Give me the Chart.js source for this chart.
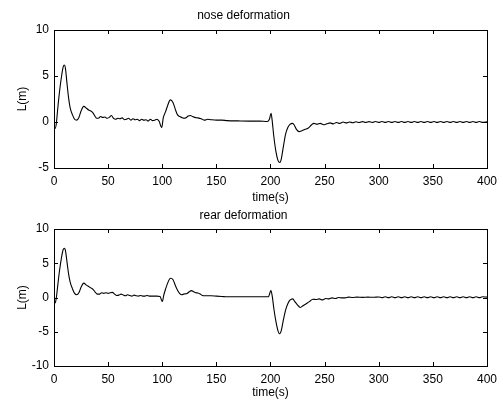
<!DOCTYPE html>
<html>
<head>
<meta charset="utf-8">
<script src="https://cdn.jsdelivr.net/npm/chart.js@4.4.1/dist/chart.umd.min.js"></script>
<style>
  body { margin: 0; background: #fff; }
  canvas { position: absolute; left: 0; }
  #noseChart { top: 0; }
  #rearChart { top: 200px; }
</style>
</head>
<body>
<canvas id="noseChart" width="503" height="206"></canvas>
<canvas id="rearChart" width="503" height="206"></canvas>
<script>
// time axis shared by both plots
const timeRange = [0, 400];
const timeStep = 50;

// nose deformation, 10 points per line
const noseTime = [
  0, 1, 2, 3.5, 5, 7, 8.5, 9.5, 10.5, 12,
  13.5, 15, 17, 19, 21, 23, 25, 27.5, 30, 32,
  34, 36, 38, 39.5, 41, 43, 45, 47, 49, 51,
  53, 55, 57, 59, 61, 63, 65, 67, 69, 71,
  73, 75, 77, 79, 81, 83, 85, 87, 89, 91,
  93, 95, 97, 99.5, 101, 103, 105, 107.5, 110, 112,
  114, 116, 118, 120, 122, 124, 126, 128, 130, 133,
  136, 139, 142, 145, 150, 155, 160, 170, 180, 190,
  197, 199, 200.5, 201.5, 203, 205, 207, 208.7, 210, 212,
  214, 216, 218, 220.5, 222, 224, 226.5, 229, 232, 235,
  238, 240, 243, 246, 249, 252, 255, 258, 261, 264,
  267, 270, 273, 276, 279, 282, 285, 288, 291, 294,
  297, 300, 303, 306, 309, 312, 315, 318, 321, 324,
  327, 330, 333, 336, 339, 342, 345, 348, 351, 354,
  357, 360, 363, 366, 369, 372, 375, 378, 381, 384,
  387, 390, 393, 396, 400];
const noseL = [
  -0.5, -0.7, -0.3, 1.5, 3.2, 5.0, 6.0, 6.2, 5.9, 4.2,
  2.6, 1.5, 0.8, 0.3, 0.2, 0.5, 1.2, 1.7, 1.5, 1.3,
  1.2, 1.0, 0.6, 0.4, 0.4, 0.6, 0.5, 0.55, 0.4, 0.5,
  0.7, 0.4, 0.3, 0.4, 0.35, 0.45, 0.25, 0.3, 0.4, 0.2,
  0.35, 0.25, 0.3, 0.15, 0.3, 0.2, 0.25, 0.1, 0.3, 0.15,
  0.2, 0.3, 0.1, -0.6, 0.5, 1.1, 1.8, 2.4, 2.1, 1.4,
  0.8, 0.6, 0.5, 0.4, 0.45, 0.65, 0.7, 0.6, 0.5, 0.45,
  0.35, 0.2, 0.3, 0.25, 0.2, 0.2, 0.15, 0.12, 0.1, 0.1,
  0.05, 0.3, 0.95, 0.2, -1.5, -3.2, -4.2, -4.4, -4.0, -2.6,
  -1.3, -0.6, -0.25, -0.15, -0.35, -0.8, -1.05, -0.95, -0.8, -0.65,
  -0.3, -0.15, -0.25, -0.15, -0.3, -0.2, -0.1, -0.2, -0.05, -0.15,
  0.0, -0.1, 0.0, -0.08, 0.02, -0.06, 0.04, -0.06, 0.04, -0.05,
  0.05, -0.04, 0.06, -0.04, 0.06, -0.04, 0.06, -0.04, 0.06, -0.04,
  0.06, -0.04, 0.06, -0.04, 0.06, -0.04, 0.06, -0.04, 0.06, -0.04,
  0.06, -0.04, 0.06, -0.04, 0.06, -0.04, 0.06, -0.04, 0.06, -0.04,
  0.06, -0.04, 0.06, -0.04, 0.02];
const noseRange = [-5, 10];

// rear deformation, 10 points per line
const rearTime = [
  0, 1, 2, 3.5, 5, 7, 8.5, 9.5, 10.5, 12,
  13.5, 15, 17, 19, 21, 23, 25, 27.5, 30, 32,
  34, 36, 38, 40, 42, 44, 46, 48, 50, 52,
  54, 56, 58, 60, 62, 64, 66, 68, 70, 72,
  74, 76, 78, 80, 82, 84, 86, 88, 90, 95,
  98, 100, 101.5, 103, 105, 107.5, 110, 112, 114, 116,
  118, 120, 123, 125, 127, 129, 131, 133, 135, 137,
  140, 145, 150, 155, 160, 180, 198, 200.4, 201.5, 203,
  205, 207, 208.5, 210, 212, 214, 216, 218, 220.5, 222,
  224.5, 227.5, 230, 233, 236, 239, 242, 245, 248, 251,
  254, 257, 260, 263, 266, 269, 272, 276, 280, 285,
  290, 295, 300, 303, 306, 309, 312, 315, 318, 321,
  324, 327, 330, 333, 336, 339, 342, 345, 348, 351,
  354, 357, 360, 363, 366, 369, 372, 375, 378, 381,
  384, 387, 390, 393, 396, 400];
const rearL = [
  -0.6, -0.8, -0.2, 1.8, 3.8, 5.9, 7.0, 7.2, 6.9, 5.2,
  3.4, 2.2, 1.3, 0.6, 0.4, 0.7, 1.5, 2.1, 1.8, 1.6,
  1.4, 1.2, 0.8, 0.5, 0.5, 0.7, 0.6, 0.7, 0.6, 0.7,
  0.75, 0.5, 0.3, 0.35, 0.5, 0.35, 0.25, 0.4, 0.3, 0.2,
  0.35, 0.25, 0.2, 0.3, 0.2, 0.2, 0.3, 0.2, 0.2, 0.2,
  0.15, -0.6, 0.4, 1.2, 2.1, 2.8, 2.6, 1.8, 1.1, 0.6,
  0.4, 0.5, 0.6, 0.85, 1.0, 0.85, 0.7, 0.65, 0.5, 0.3,
  0.25, 0.25, 0.2, 0.15, 0.1, 0.1, 0.1, 1.0, 0.3, -1.5,
  -3.5, -4.9, -5.3, -4.8, -3.2, -1.8, -0.9, -0.4, -0.2, -0.5,
  -1.0, -1.45, -1.2, -0.9, -0.6, -0.25, -0.3, -0.2, -0.35, -0.15,
  -0.2, -0.05, -0.15, 0.0, -0.05, -0.05, 0.05, 0.0, 0.05, 0.02,
  0.06, 0.03, 0.08, -0.02, 0.12, -0.02, 0.12, -0.02, 0.12, -0.02,
  0.12, -0.02, 0.12, -0.02, 0.12, -0.02, 0.12, -0.02, 0.12, -0.02,
  0.12, -0.02, 0.12, -0.02, 0.12, -0.02, 0.12, -0.02, 0.12, -0.02,
  0.12, -0.02, 0.12, -0.02, 0.12, 0.05];
const rearRange = [-10, 10];
const lStep = 5;

// matlab style: box round the axes and ticks pointing inwards
const boxTicks = {
  id: 'boxTicks',
  afterDraw(chart) {
    const { ctx, chartArea: a, scales } = chart;
    const len = 4;
    ctx.save();
    ctx.strokeStyle = '#000';
    ctx.lineWidth = 1;
    ctx.beginPath();
    scales.x.ticks.forEach(t => {
      const px = Math.round(scales.x.getPixelForValue(t.value)) + 0.5;
      ctx.moveTo(px, a.bottom); ctx.lineTo(px, a.bottom - len);
      ctx.moveTo(px, a.top); ctx.lineTo(px, a.top + len);
    });
    scales.y.ticks.forEach(t => {
      const py = Math.round(scales.y.getPixelForValue(t.value)) + 0.5;
      ctx.moveTo(a.left, py); ctx.lineTo(a.left + len, py);
      ctx.moveTo(a.right, py); ctx.lineTo(a.right - len, py);
    });
    ctx.stroke();
    ctx.strokeRect(Math.round(a.left) + 0.5, Math.round(a.top) + 0.5,
      Math.round(a.right - a.left), Math.round(a.bottom - a.top));
    ctx.restore();
  }
};

const font = { family: '"Liberation Sans", Arial, sans-serif', size: 12 };

function makeChart(id, title, times, values, range, opts) {
  const ctx = document.getElementById(id).getContext('2d');
  return new Chart(ctx, {
    type: 'line',
    data: {
      datasets: [{
        data: times.map((t, i) => ({ x: t, y: values[i] })),
        borderColor: '#000',
        borderWidth: 1.1,
        pointRadius: 0,
        cubicInterpolationMode: 'monotone',
        fill: false
      }]
    },
    options: {
      responsive: false,
      animation: false,
      layout: { padding: { left: 0, right: 16, top: 0, bottom: 0 } },
      plugins: {
        legend: { display: false },
        tooltip: { enabled: false },
        title: {
          display: true,
          text: title,
          color: '#000',
          font: { family: font.family, size: 12, weight: 'normal', lineHeight: 1.1 },
          padding: { top: opts.titleTop, bottom: opts.titleBottom }
        }
      },
      scales: {
        x: {
          type: 'linear',
          min: timeRange[0],
          max: timeRange[1],
          grid: { display: false, drawTicks: false },
          border: { display: false },
          ticks: { stepSize: timeStep, color: '#000', font: font, padding: 6, maxRotation: 0, autoSkip: false },
          title: { display: true, text: 'time(s)', color: '#000', font: font, padding: { top: 0, bottom: opts.xTitlePad } },
          afterFit(s) { s.height = opts.xHeight; }
        },
        y: {
          min: range[0],
          max: range[1],
          grid: { display: false, drawTicks: false },
          border: { display: false },
          ticks: { stepSize: lStep, color: '#000', font: font, padding: 5 },
          title: { display: true, text: 'L(m)', color: '#000', font: font, padding: { top: 15, bottom: 0 } },
          afterFit(s) { s.width = 54; }
        }
      }
    },
    plugins: [boxTicks]
  });
}

makeChart('noseChart', 'nose deformation', noseTime, noseL, noseRange,
  { titleTop: 9.4, titleBottom: 7.4, xHeight: 38, xTitlePad: 1 });
makeChart('rearChart', 'rear deformation', rearTime, rearL, rearRange,
  { titleTop: 8.9, titleBottom: 6.9, xHeight: 40, xTitlePad: 6 });
</script>
</body>
</html>
